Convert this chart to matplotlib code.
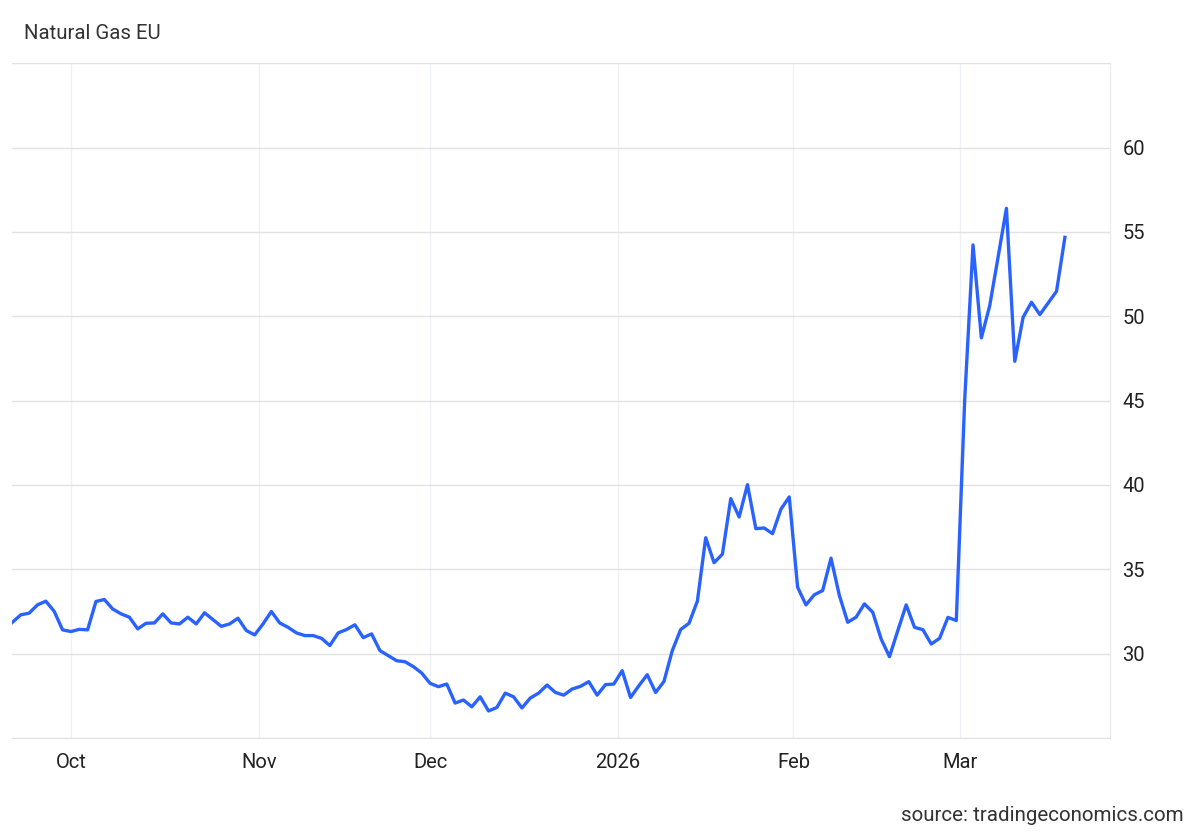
import numpy as np
import pandas as pd
import matplotlib
matplotlib.use('Agg')
import matplotlib.pyplot as plt

plt.rcParams['font.family'] = ['Roboto', 'DejaVu Sans']

# 交易日 (去掉元旦)
dates = pd.bdate_range('2025-09-22', '2026-03-18')
dates = dates[dates != pd.Timestamp('2026-01-01')]

prices = [
    31.86, 32.30, 32.40, 32.89, 33.11, 32.51, 31.41, 31.31, 31.44, 31.41,
    33.09, 33.21, 32.65, 32.36, 32.16, 31.47, 31.80, 31.82, 32.36, 31.82,
    31.76, 32.16, 31.76, 32.42, 32.02, 31.62, 31.76, 32.10, 31.37, 31.11,
    31.76, 32.50, 31.82, 31.56, 31.23, 31.07, 31.07, 30.91, 30.48, 31.23,
    31.43, 31.71, 30.95, 31.17, 30.18, 29.88, 29.58, 29.52, 29.23, 28.85,
    28.24, 28.04, 28.20, 27.07, 27.25, 26.85, 27.44, 26.60, 26.81, 27.66,
    27.44, 26.78, 27.37, 27.66, 28.14, 27.70, 27.54, 27.90, 28.06, 28.34,
    27.54, 28.16, 28.20, 28.99, 27.40, 28.10, 28.75, 27.70, 28.35, 30.18,
    31.43, 31.80, 33.11, 36.87, 35.39, 35.90, 39.19, 38.10, 40.02, 37.41,
    37.45, 37.11, 38.56, 39.29, 33.94, 32.89, 33.49, 33.74, 35.66, 33.45,
    31.86, 32.16, 32.95, 32.45, 30.87, 29.82, 31.37, 32.89, 31.56, 31.42,
    30.57, 30.91, 32.15, 31.96, 45.00, 54.23, 48.72, 50.63, 53.50, 56.40,
    47.33, 49.94, 50.83, 50.10, 50.79, 51.48, 54.68,
]

month_starts = ['2025-10-01', '2025-11-01', '2025-12-01', '2026-01-01', '2026-02-01', '2026-03-01']
month_labels = ['Oct', 'Nov', 'Dec', '2026', 'Feb', 'Mar']
y_ticks = [30, 35, 40, 45, 50, 55, 60]

x = np.arange(len(prices))

# 月初位置: 如果不是交易日, 放在两个交易日中间
tick_pos = []
for m in month_starts:
    ts = pd.Timestamp(m)
    k = dates.searchsorted(ts)
    tick_pos.append(k if ts in dates else k - 0.5)

fig = plt.figure(figsize=(12, 8.32), dpi=100)
ax = fig.add_axes([0.01, 0.113, 0.915, 0.811])

ax.plot(x, prices, color='#2962ff', lw=2.4, solid_joinstyle='round', zorder=3)

ax.set_xlim(-0.05, 131.4)
ax.set_ylim(25, 65)

ax.set_xticks(tick_pos)
ax.set_xticklabels(month_labels)
ax.set_yticks([25] + y_ticks + [65])
ax.set_yticklabels([''] + [str(v) for v in y_ticks] + [''])
ax.yaxis.tick_right()

ax.tick_params(axis='x', length=0, pad=11, labelsize=14.5, labelcolor='#222222')
ax.tick_params(axis='y', length=0, pad=9, labelsize=14.5, labelcolor='#222222')

ax.grid(axis='y', color='#e2e2e2', lw=1)
ax.grid(axis='x', color='#eef1f5', lw=1)
ax.set_axisbelow(True)

for s in ['top', 'left']:
    ax.spines[s].set_visible(False)
ax.spines['right'].set_color('#e6e8ec')
ax.spines['bottom'].set_color('#e2e2e2')

fig.text(0.02, 0.96, 'Natural Gas EU', fontsize=14.7, color='#333333', va='center', ha='left')
fig.text(0.986, 0.008, 'source: tradingeconomics.com', fontsize=14.8, color='#333333', va='bottom', ha='right')

fig.savefig('out.png', dpi=100, facecolor='white')
